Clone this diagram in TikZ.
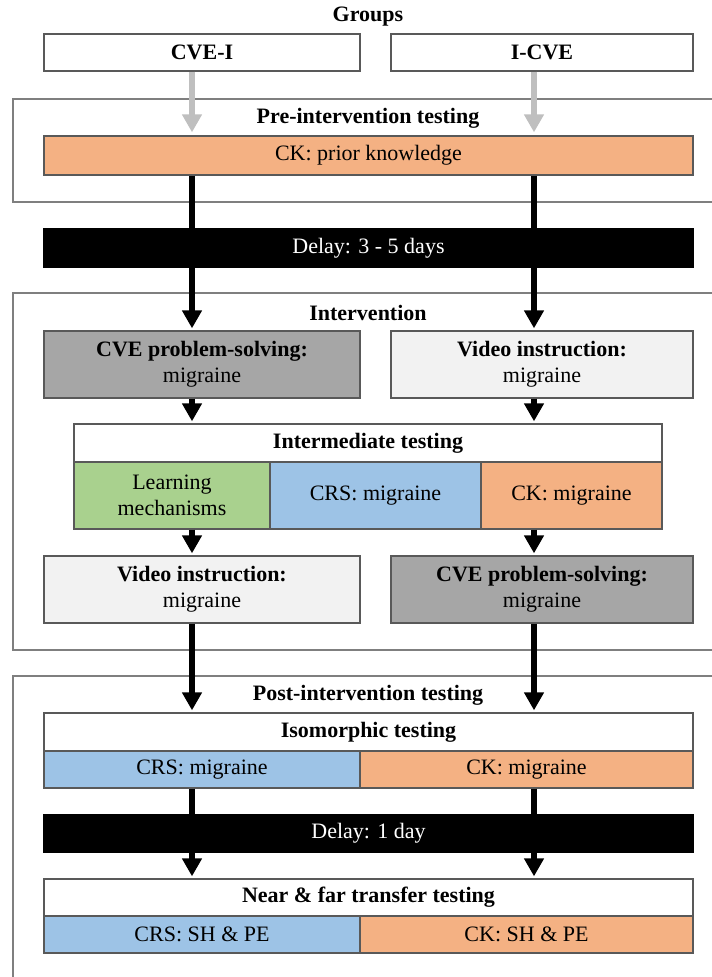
\documentclass[tikz,border=0pt]{standalone}
\usepackage{fontspec}
\setmainfont{Liberation Serif}
\usetikzlibrary{arrows.meta, positioning}

\begin{document}
\begin{tikzpicture}[
    x=1pt, y=-1pt,
    every node/.style={font=\rmfamily},
]

% ---------------------------------------------------------------- colours
\definecolor{cline}{HTML}{595959}    % box borders
\definecolor{cframe}{HTML}{7F7F7F}   % the phase frames
\definecolor{corange}{HTML}{F4B183}  % CK
\definecolor{cblue}{HTML}{9DC3E6}    % CRS
\definecolor{cgreen}{HTML}{A9D18E}   % learning mechanisms
\definecolor{cdark}{HTML}{A6A6A6}    % CVE problem-solving
\definecolor{clight}{HTML}{F2F2F2}   % video instruction
\definecolor{cgrayarr}{HTML}{BFBFBF}

% ================================================================
% one unit is one pixel of the 712 x 977 page, y runs downwards
%   column A at x = 192, column B at x = 534
%   frames run off the right and bottom edge, the clip cuts them
% ================================================================

\tikzset{
    box/.style={
        draw=cline, line width=1.3pt, fill=white,
        inner sep=0pt, align=center,
        font=\fontsize{22}{26}\selectfont,
    },
    head/.style={box, font=\fontsize{22}{26}\selectfont\bfseries},
    delaybar/.style={box, draw=black, fill=black, text=white},
    frame/.style={draw=cframe, line width=1.3pt},
    title/.style={font=\fontsize{22}{26}\selectfont\bfseries},
    grayarr/.style={draw=cgrayarr, line width=6pt,
        -{Triangle[length=18pt, width=19pt]}, shorten >=3pt},
    blkarr/.style={draw=black, line width=6pt,
        -{Triangle[length=18pt, width=19pt]}, shorten >=2pt},
    blkline/.style={draw=black, line width=6pt},
}

\useasboundingbox (0,0) rectangle (712,977);
\clip (0,0) rectangle (712,977);

\coordinate (colA) at (192,0);
\coordinate (colB) at (534,0);

% ================================================================ groups
\node[title] (groups) at (368,17) {Groups};
\node[head, minimum width=316pt, minimum height=37pt] (cvei) at (202,52.5) {CVE-I};
\node[head, minimum width=302pt, minimum height=37pt] (icve) at (542,52.5) {I-CVE};

% ================================================================ pre-intervention
\draw[frame] (13,99) rectangle (730,202);
\node[title] (pretitle) at (368,118) {Pre-intervention testing};
\node[box, fill=corange, minimum width=649pt, minimum height=39pt]
    (prior) at (368.5,155.5) {CK: prior knowledge};

\node[delaybar, minimum width=649pt, minimum height=38pt]
    (delaya) at (368.5,248) {Delay: 3 - 5 days};

% ================================================================ intervention
\draw[frame] (13,293) rectangle (730,650);
\node[title] (inttitle) at (368,313) {Intervention};

\node[box, fill=cdark, minimum width=316pt, minimum height=67pt]
    (cvea) at (202,364.5) {\textbf{CVE problem-solving:}\\migraine};
\node[box, fill=clight, minimum width=302pt, minimum height=67pt]
    (vida) at (542,364.5) {\textbf{Video instruction:}\\migraine};

\node[head, minimum width=588pt, minimum height=38pt]
    (inter) at (368,443) {Intermediate testing};
\node[box, fill=cgreen, minimum width=196pt, minimum height=67pt]
    (learn) at (172,495.5) {Learning\\mechanisms};
\node[box, fill=cblue, minimum width=211pt, minimum height=67pt]
    (crsa) at (375.5,495.5) {CRS: migraine};
\node[box, fill=corange, minimum width=181pt, minimum height=67pt]
    (cka) at (571.5,495.5) {CK: migraine};

\node[box, fill=clight, minimum width=316pt, minimum height=67pt]
    (vidb) at (202,589.5) {\textbf{Video instruction:}\\migraine};
\node[box, fill=cdark, minimum width=302pt, minimum height=67pt]
    (cveb) at (542,589.5) {\textbf{CVE problem-solving:}\\migraine};

% ================================================================ post-intervention
\draw[frame] (13,676) rectangle (730,1000);
\node[title] (posttitle) at (368,695) {Post-intervention testing};

\node[head, minimum width=649pt, minimum height=38pt]
    (iso) at (368.5,732) {Isomorphic testing};
\node[box, fill=cblue, minimum width=316pt, minimum height=37pt]
    (crsb) at (202,769.5) {CRS: migraine};
\node[box, fill=corange, minimum width=333pt, minimum height=37pt]
    (ckb) at (526.5,769.5) {CK: migraine};

\node[delaybar, minimum width=649pt, minimum height=37pt]
    (delayb) at (368.5,833.5) {Delay: 1 day};

\node[head, minimum width=649pt, minimum height=37pt]
    (near) at (368.5,897.5) {Near \& far transfer testing};
\node[box, fill=cblue, minimum width=316pt, minimum height=37pt]
    (crsc) at (202,934.5) {CRS: SH \& PE};
\node[box, fill=corange, minimum width=333pt, minimum height=37pt]
    (ckc) at (526.5,934.5) {CK: SH \& PE};

% ================================================================ arrows
\draw[grayarr] (cvei.south -| colA) -- (prior.north -| colA);
\draw[grayarr] (icve.south -| colB) -- (prior.north -| colB);

\foreach \c in {colA, colB} {
    \draw[blkline] (prior.south -| \c) -- (delaya.north -| \c);
    \draw[blkline] (crsb.south -| \c) -- (delayb.north -| \c);
    \draw[blkarr] (delayb.south -| \c) -- (near.north -| \c);
}
\draw[blkarr] (delaya.south -| colA) -- (cvea.north -| colA);
\draw[blkarr] (delaya.south -| colB) -- (vida.north -| colB);
\draw[blkarr] (cvea.south -| colA) -- (inter.north -| colA);
\draw[blkarr] (vida.south -| colB) -- (inter.north -| colB);
\draw[blkarr] (learn.south -| colA) -- (vidb.north -| colA);
\draw[blkarr] (cka.south -| colB) -- (cveb.north -| colB);
\draw[blkarr] (vidb.south -| colA) -- (iso.north -| colA);
\draw[blkarr] (cveb.south -| colB) -- (iso.north -| colB);

\end{tikzpicture}
\end{document}
